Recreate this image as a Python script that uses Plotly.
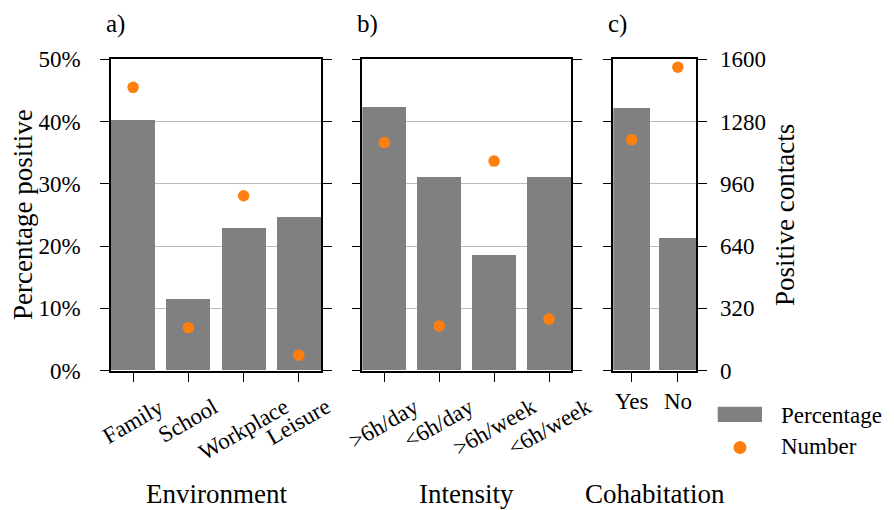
import plotly.graph_objects as go

# ---- data ----
env_labels = ["Family", "School", "Workplace", "Leisure"]
env_pct = [40.2, 11.5, 22.9, 24.7]
env_num = [1456, 221, 899, 80]

int_labels = [">6h/day", "<6h/day", ">6h/week", "<6h/week"]
int_pct = [42.3, 31.0, 18.6, 31.1]
int_num = [1172, 230, 1077, 265]

coh_labels = ["Yes", "No"]
coh_pct = [42.1, 21.2]
coh_num = [1187, 1559]

group_titles = ["Environment", "Intensity", "Cohabitation"]
panel_letters = ["a)", "b)", "c)"]
pct_ticks = [0, 10, 20, 30, 40, 50]
num_ticks = [0, 320, 640, 960, 1280, 1600]

# ---- layout helpers ----
W, H = 894, 510
FONT = "Liberation Serif"
BAR = "#808080"
DOT = "#ff7f0e"
px = lambda v: v / W
py = lambda v: 1 - v / H

panels = [
    (env_labels, env_pct, env_num, (111, 321)),
    (int_labels, int_pct, int_num, (362.3, 571)),
    (coh_labels, coh_pct, coh_num, (613.3, 696.3)),
]
ydom = [py(370.7), py(59.3)]

fig = go.Figure()
annotations = []
layout = {}

for i, (labels, pct, num, (x0, x1)) in enumerate(panels):
    n = i + 1
    xa = "x" if n == 1 else f"x{n}"
    ya = "y" if n == 1 else f"y{n}"
    ya2 = f"y{n + 3}"
    idx = list(range(len(labels)))
    fig.add_trace(go.Bar(x=idx, y=pct, width=0.8, marker=dict(color=BAR, line=dict(width=0)),
                         xaxis=xa, yaxis=ya, showlegend=False))
    fig.add_trace(go.Scatter(x=idx, y=num, mode="markers", marker=dict(color=DOT, size=11.5),
                             xaxis=xa, yaxis=ya2, showlegend=False))
    xkey = "xaxis" if n == 1 else f"xaxis{n}"
    ykey = "yaxis" if n == 1 else f"yaxis{n}"
    layout[xkey] = dict(domain=[px(x0), px(x1)], anchor=ya, range=[-0.4, len(labels) - 0.6],
                        tickvals=idx, showticklabels=False, ticks="outside", ticklen=9,
                        tickwidth=1.4, tickcolor="black", showline=True, linecolor="black",
                        linewidth=1.6, mirror=True, showgrid=False, zeroline=False,
                        automargin=False)
    layout[ykey] = dict(domain=ydom, anchor=xa, range=[0, 50], tickvals=pct_ticks,
                        ticktext=[f"{t}%" for t in pct_ticks], showticklabels=(n == 1),
                        ticks="outside", ticklen=9, tickwidth=1.4, tickcolor="black",
                        showline=True, linecolor="black", linewidth=1.6, mirror="ticks",
                        showgrid=True, gridcolor="#bbbbbb", gridwidth=1.4, zeroline=False,
                        tickfont=dict(family=FONT, size=23, color="black"),
                        ticklabelstandoff=15, automargin=False)
    sec = dict(overlaying=ya, anchor=xa, range=[0, 1600], tickvals=num_ticks,
               showgrid=False, zeroline=False, showline=False, automargin=False)
    if n == 3:
        sec.update(side="right", ticks="outside", ticklen=9, tickwidth=1.4, tickcolor="black",
                   showticklabels=True, tickfont=dict(family=FONT, size=23, color="black"),
                   ticklabelstandoff=9)
    else:
        sec.update(visible=False)
    layout[f"yaxis{n + 3}"] = sec

    # category labels
    for j, lab in enumerate(labels):
        if n == 3:
            annotations.append(dict(x=j, y=py(387), xref=xa, yref="paper", text=lab,
                                    showarrow=False, xanchor="center", yanchor="top",
                                    font=dict(family=FONT, size=23, color="black")))
        else:
            annotations.append(dict(x=j, y=py(391), xref=xa, yref="paper", text=lab,
                                    showarrow=False, xanchor="center", yanchor="top",
                                    textangle=-30, font=dict(family=FONT, size=23, color="black")))
    # group title
    annotations.append(dict(x=px((x0 + x1) / 2), y=py(494), xref="paper", yref="paper",
                            text=group_titles[i], showarrow=False, xanchor="center",
                            yanchor="middle", font=dict(family=FONT, size=27, color="black")))
    # panel letter
    annotations.append(dict(x=px(x0 - 7), y=py(24), xref="paper", yref="paper",
                            text=panel_letters[i], showarrow=False, xanchor="left",
                            yanchor="middle", font=dict(family=FONT, size=25, color="black")))

# axis titles
annotations.append(dict(x=px(23), y=py(215), xref="paper", yref="paper", text="Percentage positive",
                        showarrow=False, textangle=-90, xanchor="center", yanchor="middle",
                        font=dict(family=FONT, size=27, color="black")))
annotations.append(dict(x=px(785), y=py(215), xref="paper", yref="paper", text="Positive contacts",
                        showarrow=False, textangle=-90, xanchor="center", yanchor="middle",
                        font=dict(family=FONT, size=27, color="black")))

# legend
shapes = [
    dict(type="rect", xref="paper", yref="paper", x0=px(717.7), x1=px(762), y0=py(422), y1=py(406.7),
         fillcolor=BAR, line=dict(width=0)),
    dict(type="circle", xref="paper", yref="paper", x0=px(733.5), x1=px(746.5), y0=py(454), y1=py(441),
         fillcolor=DOT, line=dict(width=0)),
]
annotations.append(dict(x=px(779), y=py(415), xref="paper", yref="paper", text="Percentage",
                        showarrow=False, xanchor="left", yanchor="middle",
                        font=dict(family=FONT, size=23, color="black")))
annotations.append(dict(x=px(779), y=py(446), xref="paper", yref="paper", text="Number",
                        showarrow=False, xanchor="left", yanchor="middle",
                        font=dict(family=FONT, size=23, color="black")))

fig.update_layout(width=W, height=H, margin=dict(l=0, r=0, t=0, b=0, autoexpand=False),
                  paper_bgcolor="white", plot_bgcolor="white",
                  annotations=annotations, shapes=shapes, bargap=0,
                  font=dict(family=FONT, size=22, color="black"), **layout)

fig.write_html("out.html")
